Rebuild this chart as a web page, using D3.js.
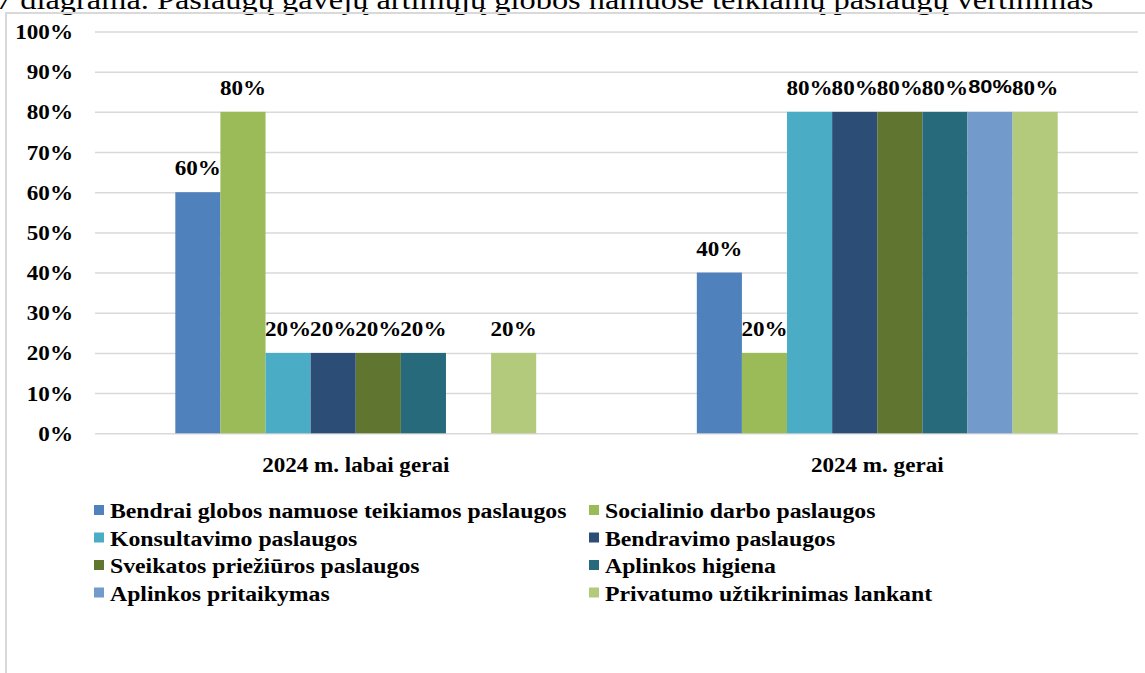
<!DOCTYPE html>
<html>
<head>
<meta charset="utf-8">
<script src="https://cdn.jsdelivr.net/npm/d3@7"></script>
<style>
  body { margin: 0; background: #fff; overflow: hidden; }
  svg { display: block; font-family: "Liberation Serif", "Times New Roman", serif; }
</style>
</head>
<body>
<div id="chart"></div>
<script>
// ---- data ----
const categories = ["2024 m. labai gerai", "2024 m. gerai"];
const seriesNames = [
    "Bendrai globos namuose teikiamos paslaugos",
    "Socialinio darbo paslaugos",
    "Konsultavimo paslaugos",
    "Bendravimo paslaugos",
    "Sveikatos priežiūros paslaugos",
    "Aplinkos higiena",
    "Aplinkos pritaikymas",
    "Privatumo užtikrinimas lankant"
];
// one value per series, per category (null = no bar)
const valuesLabaiGerai = [60, 80, 20, 20, 20, 20, null, 20];
const valuesGerai = [40, 20, 80, 80, 80, 80, 80, 80];
const seriesColors = ["#4f81bd", "#9bbb59", "#4bacc6", "#2c4d75", "#5f7530", "#276a7c", "#729aca", "#b3c97c"];
const yTickValues = [0, 10, 20, 30, 40, 50, 60, 70, 80, 90, 100];
const titleText = "7 diagrama. Paslaugų gavėjų artimųjų globos namuose teikiamų paslaugų vertinimas";

let rows = [];
seriesNames.forEach(function (s, i) {
    rows.push({ cat: categories[0], series: s, idx: i, value: valuesLabaiGerai[i] });
    rows.push({ cat: categories[1], series: s, idx: i, value: valuesGerai[i] });
});

//----------------------------------------
// SVG setup
let width = 1145,
    height = 673;
let SX = 1.15;   // the picture's text is a little wide

let svg = d3.select('#chart').append('svg')
    .attr('width', width)
    .attr('height', height);

// stretched text helper
function stext(parent, x, y, txt, sx) {
    return parent.append('text')
        .attr('transform', 'translate(' + x + ',' + y + ') scale(' + (sx || SX) + ',1)')
        .text(txt);
}

// title (its top is cut off in the original too) and chart frame
stext(svg, -4, 9, titleText, 1.2)
    .style('font-size', '27px')
    .style('fill', '#000');

svg.append('path')
    .attr('d', 'M6,' + height + 'V13H' + width)
    .style('fill', 'none')
    .style('stroke', '#d9d9d9')
    .style('stroke-width', 2);

//----------------------------------------
// Scales
let plot = { left: 95, right: 1138, top: 31.5, bottom: 433.3 };

let y = d3.scaleLinear()
    .domain([0, 100])
    .range([plot.bottom, plot.top]);

let x0 = d3.scaleBand()
    .domain(categories)
    .range([plot.left, plot.right])
    .paddingInner(0.308)
    .paddingOuter(0.154);

let x1 = d3.scaleBand()
    .domain(seriesNames)
    .range([0, x0.bandwidth()]);

let color = d3.scaleOrdinal()
    .domain(seriesNames)
    .range(seriesColors);

//----------------------------------------
// Gridlines + y axis
let yAxis = svg.append('g')
    .attr('transform', 'translate(' + plot.left + ',0)')
    .call(d3.axisLeft(y)
        .tickValues(yTickValues)
        .tickSize(-(plot.right - plot.left))
        .tickPadding(0)
        .tickFormat(function (d) { return d + '%'; }));

yAxis.select('.domain').remove();
yAxis.selectAll('.tick line')
    .style('stroke', '#d9d9d9')
    .style('stroke-width', 1.5);
yAxis.selectAll('.tick text')
    .attr('x', null)
    .attr('dy', null)
    .attr('transform', 'translate(-22,7) scale(1.1,1)')
    .style('font-family', '"Liberation Serif", "Times New Roman", serif')
    .style('font-size', '21px')
    .style('font-weight', 'bold')
    .style('fill', '#000');

//----------------------------------------
// Bars
let bars = rows.filter(function (d) { return d.value !== null; });

svg.append('g').selectAll('rect')
    .data(bars)
    .enter()
    .append('rect')
    .attr('x', function (d) { return x0(d.cat) + x1(d.series); })
    .attr('y', function (d) { return y(d.value); })
    .attr('width', x1.bandwidth())
    .attr('height', function (d) { return y(0) - y(d.value); })
    .style('fill', function (d) { return color(d.series); });

// value labels
let labels = svg.append('g');
bars.forEach(function (d) {
    let cx = x0(d.cat) + x1(d.series) + x1.bandwidth() / 2;
    // one label in the original is set in a sans font
    let odd = (d.cat === categories[1] && d.idx === 6);
    stext(labels, cx, y(d.value) - (odd ? 19 : 17), d.value + '%', odd ? 1.15 : 1.1)
        .attr('text-anchor', 'middle')
        .style('font-family', odd ? '"Liberation Sans", Arial, sans-serif' : null)
        .style('font-size', odd ? '19px' : '21px')
        .style('font-weight', 'bold')
        .style('fill', '#000');
});

// category labels
categories.forEach(function (c) {
    stext(svg, x0(c) + x0.bandwidth() / 2, 472, c, 1.1)
        .attr('text-anchor', 'middle')
        .style('font-size', '21px')
        .style('font-weight', 'bold')
        .style('fill', '#000');
});

//----------------------------------------
// Legend, two columns
let legend = svg.append('g');
let colX = [94, 589],
    rowY0 = 510,
    rowH = 27.5;

seriesNames.forEach(function (s, i) {
    let lx = colX[i % 2],
        ly = rowY0 + Math.floor(i / 2) * rowH;
    legend.append('rect')
        .attr('x', lx)
        .attr('y', ly - 5)
        .attr('width', 10)
        .attr('height', 10)
        .style('fill', color(s));
    stext(legend, lx + 16, ly + 8, s, 1.08)
        .style('font-size', '22px')
        .style('font-weight', 'bold')
        .style('fill', '#000');
});
</script>
</body>
</html>
